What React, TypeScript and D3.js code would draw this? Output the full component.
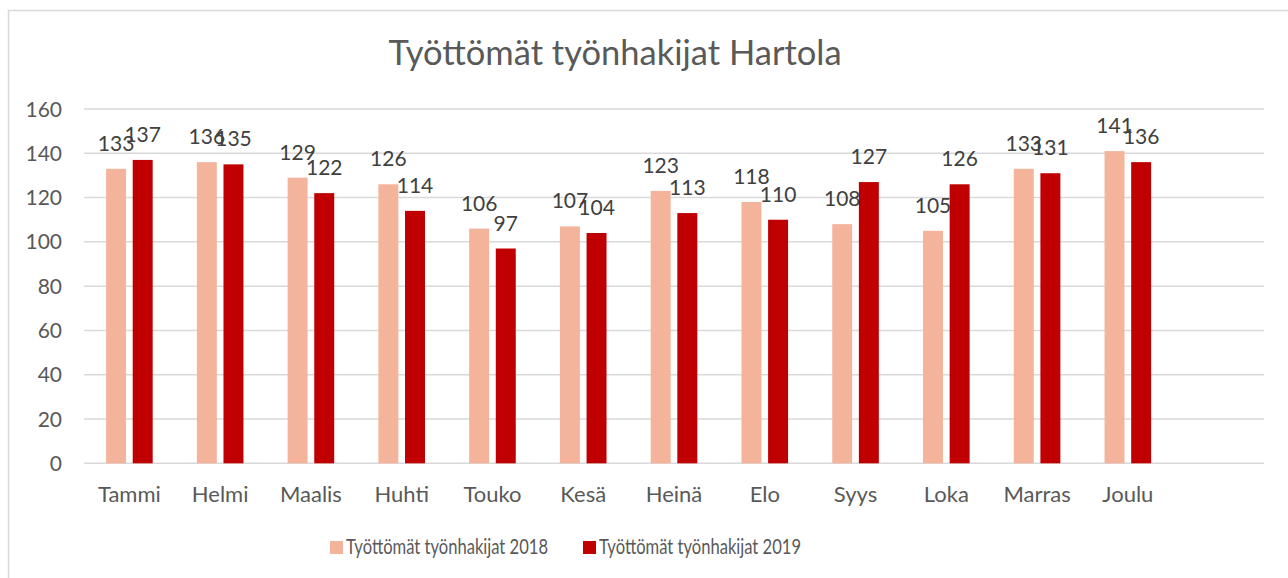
import React, { useEffect, useRef } from 'react';
import * as d3 from 'd3';

const months = ['Tammi', 'Helmi', 'Maalis', 'Huhti', 'Touko', 'Kesä', 'Heinä', 'Elo', 'Syys', 'Loka', 'Marras', 'Joulu'];
const values2018 = [133, 136, 129, 126, 106, 107, 123, 118, 108, 105, 133, 141];
const values2019 = [137, 135, 122, 114, 97, 104, 113, 110, 127, 126, 131, 136];
const seriesNames = ['Työttömät työnhakijat 2018', 'Työttömät työnhakijat 2019'];
const seriesColors = ['#F4B49C', '#C00000'];
const yTicks = [0, 20, 40, 60, 80, 100, 120, 140, 160];
const title = 'Työttömät työnhakijat Hartola';

const FONT = 'Lato, "Open Sans", sans-serif';

const App = () => {
  const ref = useRef<SVGSVGElement>(null);

  useEffect(() => {
    const svg = d3.select(ref.current);
    svg.selectAll('*').remove();

    const width = 1288;
    const height = 578;

    // chart frame (top and left edges visible)
    svg.append('rect')
      .attr('x', 8.5).attr('y', 10.5)
      .attr('width', width).attr('height', height)
      .attr('fill', '#fff')
      .attr('stroke', '#d9d9d9')
      .attr('stroke-width', 1.5);

    // 13 slots: last one left empty like the original
    const x0 = d3.scaleBand()
      .domain([...months, ''])
      .range([84, 1264])
      .padding(0);

    const x1 = d3.scaleBand()
      .domain(['0', '1'])
      .range([-23.3, 23.3])
      .paddingInner(0.25)
      .paddingOuter(0);

    const y = d3.scaleLinear()
      .domain([0, 160])
      .range([463.3, 109]);

    // gridlines
    svg.append('g')
      .selectAll('line')
      .data(yTicks)
      .join('line')
      .attr('x1', 84).attr('x2', 1264)
      .attr('y1', d => y(d)).attr('y2', d => y(d))
      .attr('stroke', '#d9d9d9')
      .attr('stroke-width', 1.5);

    // y tick labels
    svg.append('g')
      .selectAll('text')
      .data(yTicks)
      .join('text')
      .attr('x', 62)
      .attr('y', d => y(d))
      .attr('dy', '0.36em')
      .attr('text-anchor', 'end')
      .attr('fill', '#595959')
      .style('font-family', FONT)
      .style('font-size', '21px')
      .text(d => d);

    const rows = months.map((m, i) => ({ m, vals: [values2018[i], values2019[i]] }));

    const groups = svg.append('g')
      .selectAll('g')
      .data(rows)
      .join('g')
      .attr('transform', d => `translate(${x0(d.m)! + x0.bandwidth() / 2},0)`);

    groups.selectAll('rect')
      .data(d => d.vals.map((v, s) => ({ v, s })))
      .join('rect')
      .attr('x', d => x1(String(d.s))!)
      .attr('y', d => y(d.v))
      .attr('width', x1.bandwidth())
      .attr('height', d => y(0) - y(d.v))
      .attr('fill', d => seriesColors[d.s]);

    groups.selectAll('text')
      .data(d => d.vals.map((v, s) => ({ v, s })))
      .join('text')
      .attr('x', d => x1(String(d.s))! + x1.bandwidth() / 2)
      .attr('y', d => y(d.v) - 18)
      .attr('text-anchor', 'middle')
      .attr('fill', '#404040')
      .style('font-family', FONT)
      .style('font-size', '21px')
      .text(d => d.v);

    // x labels
    svg.append('g')
      .selectAll('text')
      .data(months)
      .join('text')
      .attr('x', d => x0(d)! + x0.bandwidth() / 2)
      .attr('y', 502)
      .attr('text-anchor', 'middle')
      .attr('fill', '#595959')
      .style('font-family', FONT)
      .style('font-size', '22px')
      .text(d => d);

    // title
    svg.append('text')
      .attr('x', 615)
      .attr('y', 65)
      .attr('text-anchor', 'middle')
      .attr('fill', '#595959')
      .style('font-family', FONT)
      .style('font-size', '34.5px')
      .text(title);

    // legend
    const legendX = [330, 583];
    const legend = svg.append('g')
      .selectAll('g')
      .data(seriesNames)
      .join('g')
      .attr('transform', (d, i) => `translate(${legendX[i]},0)`);

    legend.append('rect')
      .attr('x', 0).attr('y', 541)
      .attr('width', 13).attr('height', 13)
      .attr('fill', (d, i) => seriesColors[i]);

    legend.append('text')
      .attr('x', 16)
      .attr('y', 554)
      .attr('fill', '#595959')
      .attr('textLength', 202)
      .attr('lengthAdjust', 'spacingAndGlyphs')
      .style('font-family', FONT)
      .style('font-size', '21px')
      .text(d => d);
  }, []);

  return (
    <div style={{ position: 'absolute', left: 0, top: 0 }}>
      <svg ref={ref} width={1288} height={578} style={{ display: 'block' }}></svg>
    </div>
  );
};

export default App;
